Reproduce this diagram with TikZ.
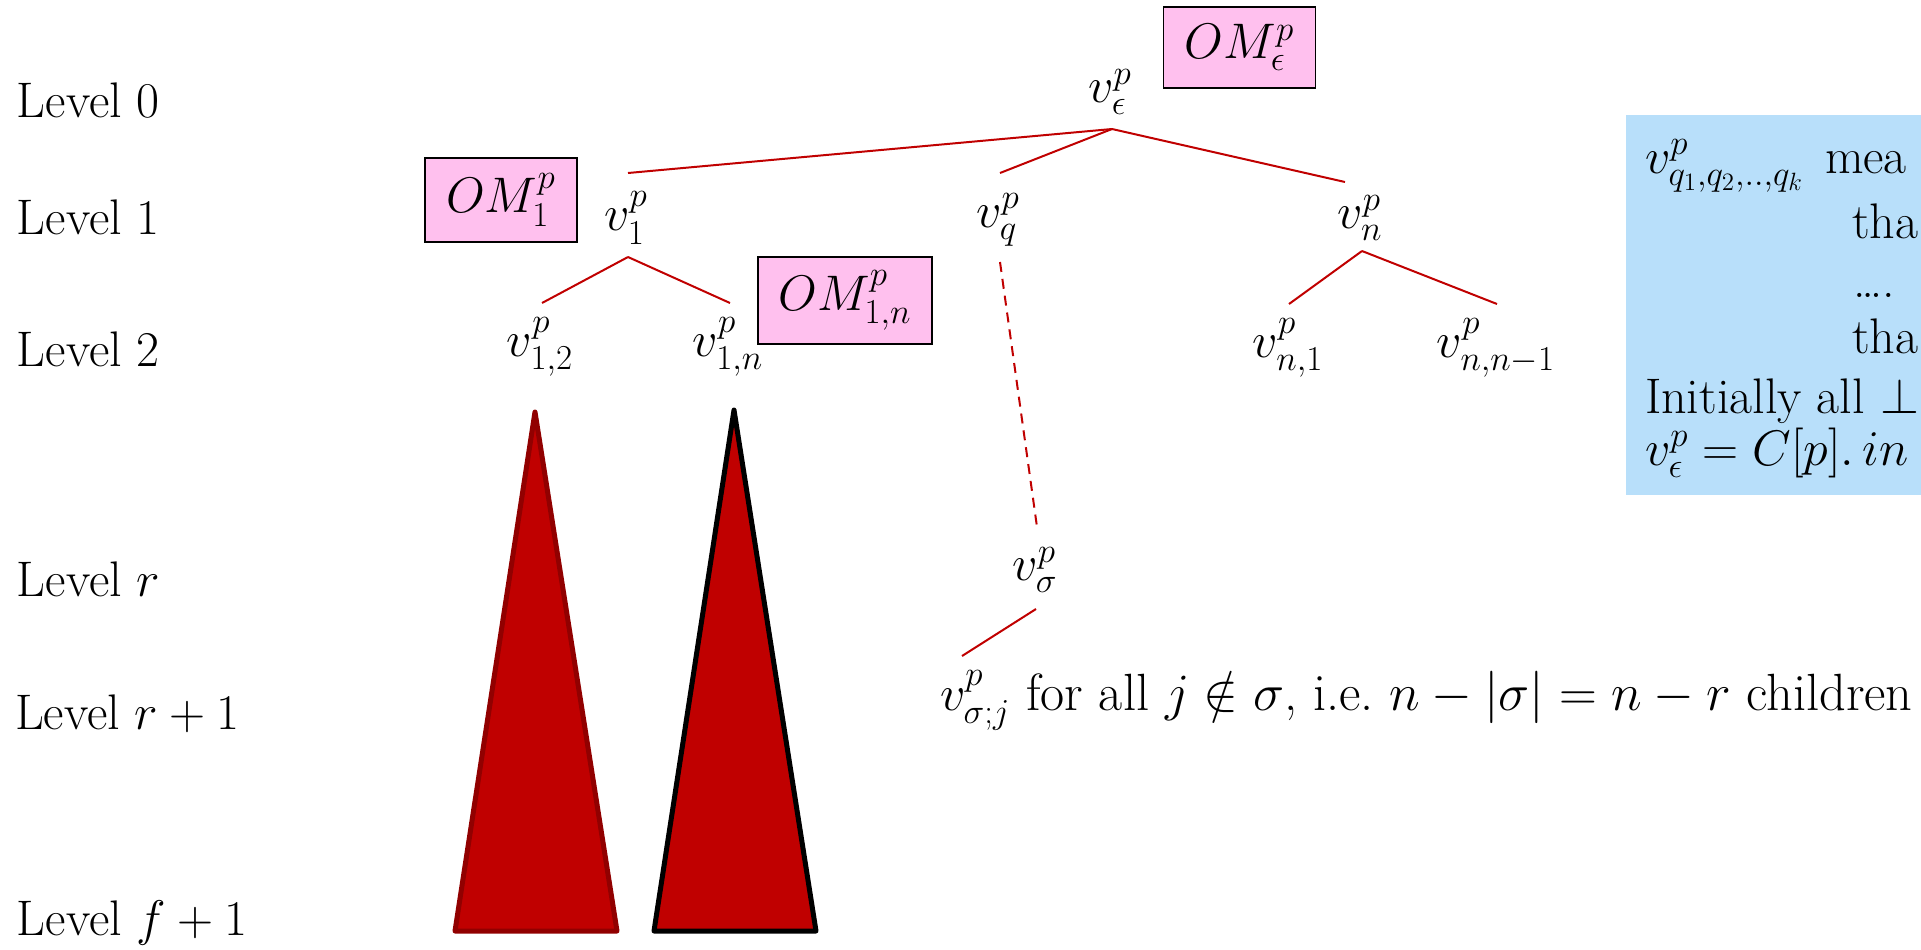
\RequirePackage{fix-cm}
\documentclass[tikz,border=0pt]{standalone}
\usepackage{fontspec}
\usepackage{amsmath}
\usetikzlibrary{calc}
\definecolor{treered}{RGB}{192,0,0}
\definecolor{darkred}{RGB}{145,0,0}
\definecolor{pinkbox}{RGB}{255,192,238}
\definecolor{bluebox}{RGB}{184,223,250}
\begin{document}
\begin{tikzpicture}[x=0.5pt,y=-0.5pt,
  every node/.style={inner sep=0pt,outer sep=0pt,font=\fontsize{25}{30}\selectfont},
  lvl/.style={anchor=base west},
  ombox/.style={draw=black,line width=0.8pt,fill=pinkbox,anchor=center},
  edge/.style={draw=treered,line width=1pt},
  dashedge/.style={edge,dash pattern=on 5pt off 3.5pt},
  tri/.style={fill=treered,line width=2.5pt,line join=round},
  note/.style={anchor=base west}]
\useasboundingbox (0,0) rectangle (1921,949);
\begin{scope}
\clip (0,0) rectangle (1921,949);
% blue note box
\fill[bluebox] (1626,115) rectangle (1960,495);
\node[note] (b1) at (1645,173) {$v^p_{\scriptstyle q_1,q_2,..,q_k}$};
\node[note] (b1b) at (1825,173) {mea};
\node[note] (b2) at (1852,238) {tha};
\node[note] (b3) at (1853,297) {\ldots.};
\node[note] (b4) at (1852,353) {tha};
\node[note] (b5) at (1645,413) {Initially all $\bot$};
\node[note] (b6) at (1645,465) {$v^p_\epsilon = C[p].\,in$};

% level labels
\node[lvl] (l0) at (17,117) {Level 0};
\node[lvl] (l1) at (17,234) {Level 1};
\node[lvl] (l2) at (17,366) {Level 2};
\node[lvl] (lr) at (17,596) {Level $r$};
\node[lvl] (lr1) at (15,729) {Level $r+1$};
\node[lvl] (lf1) at (17,935) {Level $f+1$};

% tree nodes
\node (root) at (1110,92) {$v^p_\epsilon$};
\node[ombox,minimum width=76pt,minimum height=40.5pt] (omr) at (1239.5,47.5) {$OM^p_\epsilon$};
\node (v1) at (626,218) {$v^p_1$};
\node[ombox,minimum width=76pt,minimum height=42pt] (om1) at (501,200) {$OM^p_1$};
\node (vq) at (998,220) {$v^p_q$};
\node (vn) at (1360,218) {$v^p_n$};
\node (v12) at (540,347) {$v^p_{1,2}$};
\node (v1n) at (728,347) {$v^p_{1,n}$};
\node[ombox,minimum width=87pt,minimum height=43.5pt] (om1n) at (845,300.5) {$OM^p_{1,n}$};
\node (vn1) at (1288,348) {$v^p_{n,1}$};
\node (vnn) at (1496,348) {$v^p_{n,n-1}$};
\node (vs) at (1035,570) {$v^p_\sigma$};
\node[anchor=base west] (vsj) at (940,710) {$v^p_{\sigma;j}$};
\node[anchor=base west,font=\fontsize{26.2}{31}\selectfont] (kids) at (vsj.base east) {\ for all $j\notin\sigma$, i.e.\ $n-|\sigma|=n-r$ children};

% edges
\coordinate (rootb) at ($(root)+(2,37)$);
\draw[edge] (rootb) -- ($(v1)+(2,-45)$);
\draw[edge] (rootb) -- ($(vq)+(2,-47)$);
\draw[edge] (rootb) -- ($(vn)+(-15,-36)$);
\coordinate (v1b) at ($(v1)+(2,39)$);
\draw[edge] (v1b) -- ($(v12)+(2,-44)$);
\draw[edge] (v1b) -- ($(v1n)+(2,-44)$);
\coordinate (vnb) at ($(vn)+(2,33)$);
\draw[edge] (vnb) -- ($(vn1)+(1,-44)$);
\draw[edge] (vnb) -- ($(vnn)+(1,-44)$);
\draw[dashedge] ($(vq)+(2,42)$) -- ($(vs)+(2,-43)$);
\draw[edge] ($(vs)+(1,39)$) -- ($(vsj.base west)+(22,-54)$);

% subtrees
\draw[tri,draw=darkred] (535,412) -- (617,931) -- (455,931) -- cycle;
\draw[tri,draw=black] (734,410) -- (816,931) -- (654,931) -- cycle;
\end{scope}
\end{tikzpicture}
\end{document}
